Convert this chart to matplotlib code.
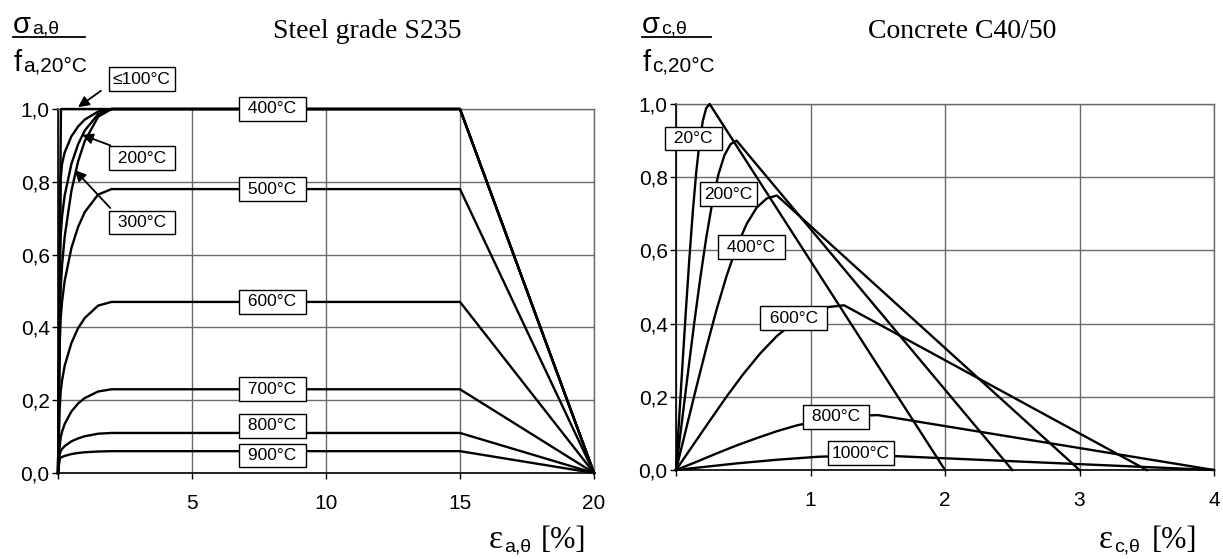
import matplotlib
matplotlib.use('Agg')
import matplotlib.pyplot as plt
from matplotlib.lines import Line2D

plt.rcParams['font.family'] = ['Liberation Sans', 'DejaVu Sans']

# ---- steel S235: strain [%] vs sigma / f_a,20°C ----
eps_s100 = [0, 0.11, 15, 20]
sig_s100 = [0, 1.0, 1.0, 0]
eps_s200 = [0, 0.10, 0.15, 0.25, 0.5, 0.75, 1.0, 1.5, 2.0, 15, 20]
sig_s200 = [0, 0.807, 0.849, 0.881, 0.925, 0.952, 0.971, 0.993, 1.0, 1.0, 0]
eps_s300 = [0, 0.086, 0.1, 0.15, 0.25, 0.5, 0.75, 1.0, 1.5, 2.0, 15, 20]
sig_s300 = [0, 0.613, 0.651, 0.704, 0.763, 0.849, 0.903, 0.941, 0.986, 1.0, 1.0, 0]
eps_s400 = [0, 0.067, 0.1, 0.15, 0.25, 0.5, 0.75, 1.0, 1.5, 2.0, 15, 20]
sig_s400 = [0, 0.42, 0.505, 0.569, 0.650, 0.775, 0.856, 0.912, 0.979, 1.0, 1.0, 0]
eps_s500 = [0, 0.067, 0.1, 0.15, 0.25, 0.5, 0.75, 1.0, 1.5, 2.0, 15, 20]
sig_s500 = [0, 0.36, 0.424, 0.470, 0.528, 0.618, 0.676, 0.717, 0.765, 0.78, 0.78, 0]
eps_s600 = [0, 0.065, 0.1, 0.15, 0.25, 0.5, 0.75, 1.0, 1.5, 2.0, 15, 20]
sig_s600 = [0, 0.18, 0.223, 0.254, 0.295, 0.357, 0.398, 0.426, 0.460, 0.47, 0.47, 0]
eps_s700 = [0, 0.065, 0.1, 0.15, 0.25, 0.5, 0.75, 1.0, 1.5, 2.0, 15, 20]
sig_s700 = [0, 0.075, 0.097, 0.113, 0.135, 0.169, 0.191, 0.206, 0.224, 0.23, 0.23, 0]
eps_s800 = [0, 0.062, 0.1, 0.15, 0.25, 0.5, 0.75, 1.0, 1.5, 2.0, 15, 20]
sig_s800 = [0, 0.05, 0.060, 0.066, 0.074, 0.087, 0.095, 0.101, 0.108, 0.11, 0.11, 0]
eps_s900 = [0, 0.062, 0.1, 0.15, 0.25, 0.5, 0.75, 1.0, 1.5, 2.0, 15, 20]
sig_s900 = [0, 0.0375, 0.042, 0.044, 0.047, 0.052, 0.055, 0.057, 0.059, 0.06, 0.06, 0]

steel_curves = [(eps_s100, sig_s100), (eps_s200, sig_s200), (eps_s300, sig_s300),
                (eps_s400, sig_s400), (eps_s500, sig_s500), (eps_s600, sig_s600),
                (eps_s700, sig_s700), (eps_s800, sig_s800), (eps_s900, sig_s900)]

# ---- concrete C40/50: strain [%] vs sigma / f_c,20°C ----
eps_c20 = [0, 0.025, 0.05, 0.075, 0.10, 0.125, 0.15, 0.175, 0.20, 0.225, 0.25, 2.0]
sig_c20 = [0, 0.150, 0.299, 0.444, 0.581, 0.706, 0.812, 0.896, 0.955, 0.989, 1.0, 0]
eps_c200 = [0, 0.045, 0.09, 0.135, 0.18, 0.225, 0.27, 0.315, 0.36, 0.405, 0.45, 2.5]
sig_c200 = [0, 0.135, 0.269, 0.400, 0.523, 0.635, 0.731, 0.807, 0.860, 0.890, 0.9, 0]
eps_c400 = [0, 0.075, 0.15, 0.225, 0.30, 0.375, 0.45, 0.525, 0.60, 0.675, 0.75, 3.0]
sig_c400 = [0, 0.112, 0.224, 0.333, 0.436, 0.529, 0.609, 0.672, 0.717, 0.742, 0.75, 0]
eps_c600 = [0, 0.125, 0.25, 0.375, 0.50, 0.625, 0.75, 0.875, 1.0, 1.125, 1.25, 3.5]
sig_c600 = [0, 0.067, 0.134, 0.200, 0.262, 0.318, 0.366, 0.403, 0.430, 0.445, 0.45, 0]
eps_c800 = [0, 0.15, 0.3, 0.45, 0.6, 0.75, 0.9, 1.05, 1.2, 1.35, 1.5, 4.0]
sig_c800 = [0, 0.022, 0.045, 0.067, 0.087, 0.106, 0.122, 0.134, 0.143, 0.148, 0.15, 0]
eps_c1000 = [0, 0.15, 0.3, 0.45, 0.6, 0.75, 0.9, 1.05, 1.2, 1.35, 1.5, 4.0]
sig_c1000 = [0, 0.006, 0.012, 0.018, 0.023, 0.028, 0.032, 0.036, 0.038, 0.040, 0.04, 0]

conc_curves = [(eps_c20, sig_c20), (eps_c200, sig_c200), (eps_c400, sig_c400),
               (eps_c600, sig_c600), (eps_c800, sig_c800), (eps_c1000, sig_c1000)]

steel_yticks = [0, 0.2, 0.4, 0.6, 0.8, 1.0]
steel_xticks = [0, 5, 10, 15, 20]
conc_xticks = [0, 1, 2, 3, 4]

W, H = 1223, 559
fig = plt.figure(figsize=(W / 100, H / 100), dpi=100)
ax1 = fig.add_axes([58 / W, 1 - 473 / H, 536 / W, 364 / H])
ax2 = fig.add_axes([676 / W, 1 - 470 / H, 538 / W, 366 / H])

GRID = '#6a6a6a'


def style_axes(ax, xmax, xticks):
    ax.set_xlim(0, xmax)
    ax.set_ylim(0, 1.0)
    ax.set_xticks(xticks)
    ax.set_xticklabels([''] + [str(t) for t in xticks[1:]])
    ax.set_yticks(steel_yticks)
    ax.set_yticklabels([f'{v:.1f}'.replace('.', ',') for v in steel_yticks])
    ax.grid(True, color=GRID, lw=1.0)
    ax.set_axisbelow(True)
    for s in ['top', 'right']:
        ax.spines[s].set_color(GRID)
        ax.spines[s].set_linewidth(1.0)
    for s in ['left', 'bottom']:
        ax.spines[s].set_color('black')
        ax.spines[s].set_linewidth(1.2)
    ax.tick_params(axis='y', direction='out', length=4, width=1, pad=2, labelsize=15)
    ax.tick_params(axis='x', direction='out', length=4, width=1, pad=11, labelsize=15)


style_axes(ax1, 20, steel_xticks)
style_axes(ax2, 4, conc_xticks)

for e, s in steel_curves:
    ax1.plot(e, s, color='black', lw=1.7, clip_on=False, zorder=3)
for e, s in conc_curves:
    ax2.plot(e, s, color='black', lw=1.7, clip_on=False, zorder=3)

box = dict(boxstyle='square,pad=0.25', fc='white', ec='black', lw=1)


def tag(ax, x, y, s):
    ax.text(x, y, s, ha='center', va='center', fontsize=12.5, bbox=box,
            zorder=5, clip_on=False)


# steel labels
tag(ax1, 8.0, 1.0, ' 400°C ')
tag(ax1, 8.0, 0.78, ' 500°C ')
tag(ax1, 8.0, 0.47, ' 600°C ')
tag(ax1, 8.0, 0.23, ' 700°C ')
tag(ax1, 8.0, 0.13, ' 800°C ')
tag(ax1, 8.0, 0.048, ' 900°C ')
tag(ax1, 3.13, 1.082, '≤100°C')
tag(ax1, 3.13, 0.865, ' 200°C ')
tag(ax1, 3.13, 0.688, ' 300°C ')

arrow = dict(arrowstyle='-|>', color='black', lw=1.3, mutation_scale=16,
             shrinkA=0, shrinkB=0)
ax1.annotate('', xy=(0.75, 1.005), xytext=(1.6, 1.05), arrowprops=arrow,
             annotation_clip=False, zorder=6)
ax1.annotate('', xy=(0.9, 0.929), xytext=(1.95, 0.90), arrowprops=arrow,
             annotation_clip=False, zorder=6)
ax1.annotate('', xy=(0.63, 0.832), xytext=(1.95, 0.728), arrowprops=arrow,
             annotation_clip=False, zorder=6)

# concrete labels
tag(ax2, 0.13, 0.906, ' 20°C ')
tag(ax2, 0.39, 0.754, '200°C')
tag(ax2, 0.56, 0.609, ' 400°C ')
tag(ax2, 0.874, 0.415, ' 600°C ')
tag(ax2, 1.19, 0.145, ' 800°C ')
tag(ax2, 1.375, 0.046, '1000°C')


def ftext(x, y, s, **kw):
    fig.text(x / W, 1 - y / H, s, va='baseline', **kw)


# titles
ftext(273, 38, 'Steel grade S235', family='Liberation Serif', fontsize=20)
ftext(868, 38, 'Concrete C40/50', family='Liberation Serif', fontsize=20)

# y-axis fractions
for x0, sub, fsub, x1 in [(13, 'a,θ', 'a,20°C', 85), (642, 'c,θ', 'c,20°C', 711)]:
    ftext(x0, 33, 'σ', fontsize=21)
    ftext(x0 + 19, 34, sub, fontsize=14)
    fig.add_artist(Line2D([x0 / W, x1 / W], [1 - 37 / H, 1 - 37 / H],
                          color='black', lw=1.3))
    ftext(x0 + 1, 71, 'f', fontsize=21)
    ftext(x0 + 10, 71, fsub, fontsize=15)

# x-axis labels
for x0, sub, xp in [(489, 'a,θ', 541), (1099, 'c,θ', 1152)]:
    ftext(x0, 548, 'ε', family='Liberation Serif', fontsize=24)
    ftext(x0 + 15, 551, sub, fontsize=14)
    ftext(xp, 548, '[%]', family='Liberation Serif', fontsize=22)

fig.savefig('out.png', dpi=100)
